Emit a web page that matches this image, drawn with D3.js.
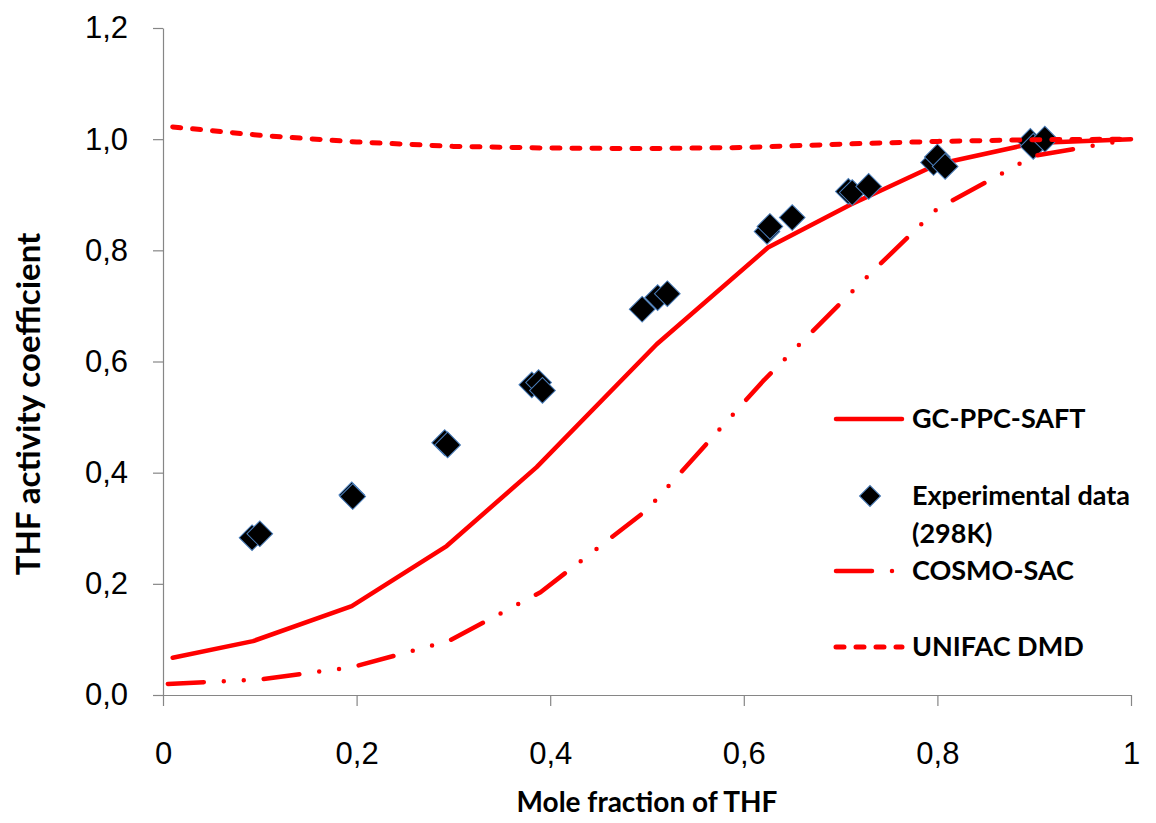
<!DOCTYPE html>
<html>
<head>
<meta charset="utf-8">
<script src="https://cdn.jsdelivr.net/npm/d3@7"></script>
<style>
  body { margin: 0; background: #fff; }
  svg { display: block; font-family: Lato, "Open Sans", sans-serif; }
  .axis path, .axis line { stroke: #868686; stroke-width: 1.2; }
  .axis text { font-size: 31px; fill: #000; }
</style>
</head>
<body>
<svg width="1156" height="823"></svg>
<script>
// experimental data (298K)
const expX = [0.092, 0.100, 0.195, 0.196, 0.291, 0.294, 0.381, 0.388, 0.392, 0.495, 0.511, 0.521,
              0.624, 0.627, 0.650, 0.708, 0.712, 0.729, 0.796, 0.800, 0.808, 0.896, 0.899, 0.911];
const expY = [0.283, 0.290, 0.360, 0.357, 0.454, 0.450, 0.558, 0.562, 0.548, 0.694, 0.715, 0.722,
              0.834, 0.843, 0.859, 0.906, 0.904, 0.915, 0.958, 0.968, 0.951, 0.996, 0.987, 1.000];

// GC-PPC-SAFT
const gcX = [0.01, 0.093, 0.195, 0.293, 0.386, 0.51, 0.625, 0.71, 0.80, 0.90, 1.0];
const gcY = [0.067, 0.097, 0.160, 0.268, 0.410, 0.631, 0.805, 0.882, 0.955, 0.993, 1.0];

// COSMO-SAC
const coX = [0.005, 0.10, 0.195, 0.295, 0.39, 0.50, 0.62, 0.72, 0.80, 0.90, 1.0];
const coY = [0.020, 0.028, 0.050, 0.097, 0.185, 0.333, 0.565, 0.740, 0.875, 0.970, 1.0];

// UNIFAC DMD
const unX = [0.01, 0.10, 0.20, 0.30, 0.40, 0.50, 0.60, 0.70, 0.80, 0.90, 1.0];
const unY = [1.022, 1.007, 0.995, 0.987, 0.984, 0.983, 0.985, 0.991, 0.996, 0.999, 1.0];

const xTicks = [0, 0.2, 0.4, 0.6, 0.8, 1];
const yTicks = [0, 0.2, 0.4, 0.6, 0.8, 1.0, 1.2];

const legendNames = ["GC-PPC-SAFT", "Experimental data", "COSMO-SAC", "UNIFAC DMD"];

const svg = d3.select("svg");
const plotL = 163, plotR = 1131, plotT = 28, plotB = 695;

const x = d3.scaleLinear().domain([0, 1]).range([plotL, plotR]);
const y = d3.scaleLinear().domain([0, 1.2]).range([plotB, plotT]);

const comma = d => d.toFixed(1).replace(".", ",");

svg.append("g")
  .attr("class", "axis")
  .attr("transform", "translate(0," + plotB + ")")
  .call(d3.axisBottom(x).tickValues(xTicks).tickSize(11).tickSizeOuter(0).tickPadding(36)
    .tickFormat(d => (d === 0 || d === 1) ? String(d) : comma(d)));

svg.append("g")
  .attr("class", "axis")
  .attr("transform", "translate(" + plotL + ",0)")
  .call(d3.axisLeft(y).tickValues(yTicks).tickSize(10).tickSizeOuter(0).tickPadding(25)
    .tickFormat(comma));

// axis titles
svg.append("text")
  .attr("x", (plotL + plotR) / 2).attr("y", 812)
  .attr("text-anchor", "middle")
  .attr("font-size", 28).attr("font-weight", "bold")
  .text("Mole fraction of THF");

svg.append("text")
  .attr("transform", "translate(40,404) rotate(-90)")
  .attr("text-anchor", "middle")
  .attr("font-size", 33).attr("font-weight", "bold")
  .text("THF activity coefficient");

const line = d3.line().x(d => x(d[0])).y(d => y(d[1]));

function drawLine(xs, ys, dash, w) {
  svg.append("path")
    .datum(d3.zip(xs, ys))
    .attr("d", line)
    .attr("fill", "none")
    .attr("stroke", "#ff0000")
    .attr("stroke-width", w)
    .attr("stroke-linecap", "round")
    .attr("stroke-linejoin", "round")
    .attr("stroke-dasharray", dash);
}

const diamond = d3.symbol().type(d3.symbolSquare).size(330);

drawLine(gcX, gcY, null, 4.5);

svg.append("g").selectAll("path")
  .data(d3.zip(expX, expY))
  .join("path")
  .attr("d", diamond)
  .attr("transform", d => "translate(" + x(d[0]) + "," + y(d[1]) + ") rotate(45)")
  .attr("fill", "#000")
  .attr("stroke", "#4a7ebb")
  .attr("stroke-width", 1);

drawLine(coX, coY, "36,20,0,20,0,20", 4.5);
drawLine(unX, unY, "8,12", 5);

// legend
const lg = svg.append("g").attr("font-size", 27).attr("font-weight", "bold");
const lx1 = 836, lx2 = 902, tx = 912;

lg.append("line").attr("x1", lx1).attr("x2", lx2).attr("y1", 419).attr("y2", 419)
  .attr("stroke", "#ff0000").attr("stroke-width", 4.5).attr("stroke-linecap", "round");
lg.append("text").attr("x", tx).attr("y", 428).text(legendNames[0]);

lg.append("path").attr("d", d3.symbol().type(d3.symbolSquare).size(220))
  .attr("transform", "translate(870,496) rotate(45)")
  .attr("fill", "#000").attr("stroke", "#4a7ebb").attr("stroke-width", 1);
lg.append("text").attr("x", tx).attr("y", 505).text(legendNames[1]);
lg.append("text").attr("x", tx).attr("y", 543).text("(298K)");

lg.append("line").attr("x1", lx1).attr("x2", lx2).attr("y1", 571).attr("y2", 571)
  .attr("stroke", "#ff0000").attr("stroke-width", 4.5).attr("stroke-linecap", "round")
  .attr("stroke-dasharray", "36,20,0,20");
lg.append("text").attr("x", tx).attr("y", 580).text(legendNames[2]);

lg.append("line").attr("x1", lx1).attr("x2", lx2).attr("y1", 647).attr("y2", 647)
  .attr("stroke", "#ff0000").attr("stroke-width", 5).attr("stroke-linecap", "round")
  .attr("stroke-dasharray", "8,12");
lg.append("text").attr("x", tx).attr("y", 656).text(legendNames[3]);
</script>
</body>
</html>
